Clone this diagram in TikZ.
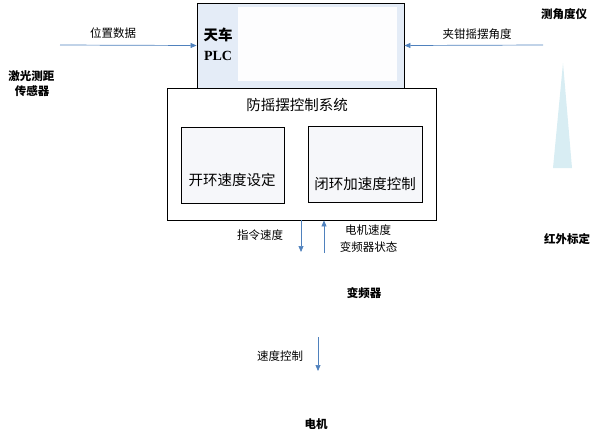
\documentclass[tikz,border=0pt]{standalone}
\usepackage{fontspec}
\setmainfont{Liberation Serif}
\newfontfamily\cjk{Noto Sans CJK SC}
\usetikzlibrary{arrows.meta}
\definecolor{sigblue}{HTML}{4F81BD}
\definecolor{plcfill}{HTML}{E4ECF7}
\definecolor{panelfill}{HTML}{FDFDFE}
\definecolor{conefill}{HTML}{D8EDF3}
\definecolor{subfill}{HTML}{F6F7FA}
\begin{document}
\begin{tikzpicture}[
    x=1pt, y=-1pt,
    lbl/.style={font=\cjk\fontsize{11.5}{13}\selectfont, inner sep=0pt},
    blbl/.style={font=\cjk\bfseries\fontsize{11.5}{13}\selectfont, inner sep=0pt},
    titletxt/.style={font=\cjk\fontsize{14.5}{16}\selectfont, inner sep=0pt},
    boxframe/.style={draw=black, line width=0.9pt, inner sep=0pt},
    subbox/.style={draw=black, line width=0.8pt, fill=subfill, inner sep=0pt},
    sig/.style={draw=sigblue, line width=0.7pt, -{Triangle[length=6pt,width=5pt]}}
  ]
  \useasboundingbox (0,0) rectangle (599,437);

  % 天车 PLC
  \node[boxframe, fill=plcfill, minimum width=207pt, minimum height=85pt] (plc) at (300.5,45.5) {};
  \node[fill=panelfill, inner sep=0pt, minimum width=159pt, minimum height=74pt] (plcpanel) at (317.5,44) {};
  \node[font=\cjk\bfseries\fontsize{14.5}{16}\selectfont, inner sep=0pt] (plcname) at (218,35) {天车};
  \node[font=\bfseries\fontsize{14}{16}\selectfont, inner sep=0pt] (plctag) at (218,56) {PLC};

  % 传感器
  \node[blbl] (laser1) at (31.5,76) {激光测距};
  \node[blbl] (laser2) at (32,91) {传感器};
  \node[blbl] (goniometer) at (564,14) {测角度仪};
  \node[blbl] (infrared) at (567,239) {红外标定};
  \fill[conefill] (563,63) -- (572,168) -- (553,168) -- cycle;

  % 输入信号
  \coordinate (posstart) at (60,45);
  \coordinate (anglestart) at (543,45);
  \draw[sig] (posstart) -- (plc.west);
  \draw[sig] (anglestart) -- (plc.east);
  \node[lbl] (poslabel) at (113,33) {位置数据};
  \node[lbl] (anglelabel) at (477,34) {夹钳摇摆角度};

  % 防摇摆控制系统
  \node[boxframe, minimum width=269pt, minimum height=132pt] (ctrl) at (301.5,154) {};
  \node[titletxt] (ctrltitle) at (297,105) {防摇摆控制系统};
  \node[subbox, minimum width=103pt, minimum height=76pt] (openloop) at (232.5,165) {};
  \node[titletxt] (openlooptxt) at (232,180) {开环速度设定};
  \node[subbox, minimum width=114pt, minimum height=76pt] (closedloop) at (365,164) {};
  \node[titletxt] (closedlooptxt) at (365,184) {闭环加速度控制};

  % 变频器
  \coordinate (cmdend) at (301,252);
  \coordinate (fbstart) at (324,253);
  \draw[sig] (cmdend |- ctrl.south) -- (cmdend);
  \draw[sig] (fbstart) -- (fbstart |- ctrl.south);
  \node[lbl] (cmdlabel) at (260,235) {指令速度};
  \node[lbl] (fblabel1) at (368,230) {电机速度};
  \node[lbl] (fblabel2) at (368.5,247) {变频器状态};
  \node[blbl] (vfd) at (364,293) {变频器};

  % 电机
  \coordinate (vfdout) at (318,337);
  \coordinate (motorin) at (318,371);
  \draw[sig] (vfdout) -- (motorin);
  \node[lbl] (speedlabel) at (280,356) {速度控制};
  \node[blbl] (motor) at (316,424) {电机};
\end{tikzpicture}
\end{document}
